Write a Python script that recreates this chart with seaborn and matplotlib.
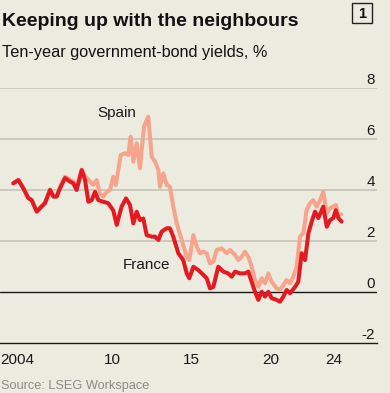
import matplotlib
matplotlib.use("Agg")
import matplotlib.pyplot as plt
import matplotlib.transforms as mtransforms
from matplotlib.patches import Rectangle
import pandas as pd
import seaborn as sns

# ---------------- data ----------------
france_years = [2004.27, 2004.59, 2004.90, 2005.22, 2005.43, 2005.75, 2006.06, 2006.27,
                2006.59, 2006.80, 2007.01, 2007.22, 2007.54, 2007.85, 2008.06, 2008.27,
                2008.59, 2008.80, 2009.01, 2009.22, 2009.43, 2009.64, 2009.95, 2010.27,
                2010.58, 2010.80, 2011.11, 2011.39, 2011.64, 2011.85, 2012.06, 2012.27,
                2012.48, 2012.69, 2013.01, 2013.22, 2013.43, 2013.64, 2013.96, 2014.16,
                2014.37, 2014.69, 2015.00, 2015.22, 2015.38, 2015.64, 2015.95, 2016.27,
                2016.48, 2016.69, 2016.90, 2017.21, 2017.53, 2017.84, 2018.06, 2018.27,
                2018.58, 2018.90, 2019.11, 2019.32, 2019.53, 2019.74, 2019.95, 2020.16,
                2020.37, 2020.58, 2020.90, 2021.11, 2021.32, 2021.53, 2021.74, 2022.06,
                2022.26, 2022.48, 2022.69, 2022.90, 2023.11, 2023.32, 2023.53, 2023.84,
                2024.06, 2024.27, 2024.47, 2024.63, 2024.79, 2025.00]
france_values = [4.26, 4.39, 4.07, 3.68, 3.60, 3.15, 3.35, 3.48,
                 4.00, 3.74, 3.74, 4.07, 4.47, 4.33, 4.26, 4.00,
                 4.78, 4.39, 3.54, 3.60, 3.93, 3.60, 3.54, 3.48,
                 3.20, 2.63, 3.35, 3.67, 3.41, 2.69, 3.15, 2.82,
                 2.88, 2.23, 2.17, 2.17, 2.04, 2.37, 2.50, 2.50,
                 2.17, 1.52, 1.25, 0.73, 0.54, 0.99, 0.86, 0.67,
                 0.54, 0.14, 0.20, 0.99, 0.80, 0.73, 0.60, 0.80,
                 0.73, 0.73, 0.80, 0.40, 0.01, -0.31, 0.01, -0.18,
                 0.01, -0.24, -0.31, -0.38, -0.18, 0.08, -0.05, 0.20,
                 0.40, 1.52, 1.25, 2.30, 2.76, 3.15, 2.90, 3.35,
                 2.56, 2.82, 2.90, 3.21, 2.90, 2.76]

spain_years = [2004.27, 2004.59, 2004.90, 2005.22, 2005.43, 2005.75, 2006.06, 2006.27,
               2006.59, 2006.80, 2007.01, 2007.22, 2007.54, 2007.85, 2008.06, 2008.27,
               2008.59, 2008.80, 2009.11, 2009.32, 2009.53, 2009.74, 2009.95, 2010.17,
               2010.38, 2010.58, 2010.75, 2010.90, 2011.05, 2011.32, 2011.53, 2011.68,
               2011.85, 2012.06, 2012.27, 2012.52, 2012.79, 2013.01, 2013.22, 2013.43,
               2013.53, 2013.74, 2013.96, 2014.16, 2014.37, 2014.59, 2014.90, 2015.22,
               2015.38, 2015.64, 2015.85, 2016.06, 2016.27, 2016.48, 2016.69, 2016.90,
               2017.11, 2017.43, 2017.74, 2017.95, 2018.27, 2018.48, 2018.69, 2018.90,
               2019.11, 2019.32, 2019.53, 2019.74, 2019.95, 2020.16, 2020.37, 2020.58,
               2020.90, 2021.11, 2021.32, 2021.53, 2021.74, 2021.95, 2022.16, 2022.37,
               2022.58, 2022.79, 2023.00, 2023.21, 2023.43, 2023.64, 2023.84, 2024.06,
               2024.27, 2024.47, 2024.64, 2024.79, 2024.97]
spain_values = [4.28, 4.40, 4.09, 3.70, 3.62, 3.17, 3.37, 3.50,
                4.02, 3.77, 3.78, 4.12, 4.52, 4.40, 4.34, 4.10,
                4.80, 4.55, 4.33, 4.20, 4.39, 3.87, 3.74, 3.93,
                4.00, 4.52, 4.20, 4.78, 5.37, 5.44, 5.37, 6.09,
                5.11, 5.83, 4.85, 6.48, 6.88, 5.31, 5.11, 4.78,
                4.13, 4.65, 4.20, 4.13, 3.35, 2.69, 2.04, 1.38,
                1.25, 2.23, 1.78, 1.52, 1.58, 1.52, 1.12, 1.19,
                1.65, 1.71, 1.52, 1.65, 1.45, 1.25, 1.38, 1.58,
                1.38, 0.99, 0.47, 0.20, 0.54, 0.34, 0.73, 0.40,
                0.14, 0.08, 0.27, 0.47, 0.34, 0.60, 0.99, 2.17,
                2.30, 3.21, 3.48, 3.60, 3.35, 3.60, 3.93, 3.08,
                3.28, 3.35, 3.41, 3.02, 3.05]

y_ticks = [-2, 0, 2, 4, 6, 8]
y_tick_labels = ["-2", "0", "2", "4", "6", "8"]
x_tick_years = list(range(2004, 2026))
x_label_pos = [2004.5, 2010.5, 2015.5, 2020.5, 2024.5]
x_label_text = ["2004", "10", "15", "20", "24"]

title = "Keeping up with the neighbours"
subtitle = "Ten-year government-bond yields, %"
source = "Source: LSEG Workspace"

# ---------------- style ----------------
BG = "#ecebdf"
RED = "#e41a22"
SALMON = "#f6a48c"
GRID = "#c9c7bc"
DARK = "#1a1a1a"

sns.set_style("white")
plt.rcParams["font.family"] = ["Liberation Sans", "DejaVu Sans"]

W, H = 390, 393
fig = plt.figure(figsize=(W / 100, H / 100), dpi=100, facecolor=BG)
ax = fig.add_axes([0, 1 - 343 / H, 377 / W, (343 - 88) / H], facecolor=BG)

spain_df = pd.DataFrame({"year": spain_years, "yield": spain_values})
france_df = pd.DataFrame({"year": france_years, "yield": france_values})

sns.lineplot(data=spain_df, x="year", y="yield", ax=ax, color=SALMON, linewidth=2.9,
             estimator=None, sort=False, solid_joinstyle="round", zorder=3)
sns.lineplot(data=france_df, x="year", y="yield", ax=ax, color=RED, linewidth=2.9,
             estimator=None, sort=False, solid_joinstyle="round", zorder=4)

ax.set_xlim(2004 - 9 / 15.84, 2004 + 368 / 15.84)
ax.set_ylim(-2, 8)
ax.set_xlabel("")
ax.set_ylabel("")

# grid lines
for v in y_ticks:
    if v == 0:
        ax.axhline(v, color=DARK, lw=1.0, zorder=2)
    elif v > 0:
        ax.axhline(v, color=GRID, lw=1.3, zorder=1)

for s in ["top", "right", "left"]:
    ax.spines[s].set_visible(False)
ax.spines["bottom"].set_color(DARK)
ax.spines["bottom"].set_linewidth(1.0)

ax.set_yticks([])
ax.set_xticks(x_tick_years)
ax.set_xticklabels([])
ax.tick_params(axis="x", which="major", direction="out", length=4.2, width=0.9,
               color=DARK)
ax.set_xticks(x_label_pos, minor=True)
ax.set_xticklabels(x_label_text, minor=True)
ax.tick_params(axis="x", which="minor", length=0, pad=7, labelsize=11,
               labelcolor=DARK)

# y labels on the right, above gridlines
trans = mtransforms.blended_transform_factory(ax.transAxes, ax.transData)
for v, lab in zip(y_ticks, y_tick_labels):
    ax.text(0.995, v + 0.05, lab, transform=trans, ha="right", va="bottom",
            fontsize=11, color=DARK)

# series labels
ax.text(2010.82, 7.0, "Spain", ha="center", va="center", fontsize=11, color=DARK)
ax.text(2012.69, 1.04, "France", ha="center", va="center", fontsize=11, color=DARK)

# titles
fig.text(2 / W, 1 - 26 / H, title, fontsize=14, fontweight="bold",
         color="#111111", va="baseline", ha="left")
fig.text(2 / W, 1 - 57.5 / H, subtitle, fontsize=11.7, color="#111111",
         va="baseline", ha="left")
fig.text(1 / W, 4.0 / H, source, fontsize=9.2, color="#8a8a8a",
         va="baseline", ha="left")

# chart number box
fig.patches.append(Rectangle((352 / W, 1 - 23 / H), 20 / W, 20 / H,
                             transform=fig.transFigure, fill=False,
                             edgecolor="#222222", linewidth=1.0))
fig.text(362 / W, 1 - 13.5 / H, "1", fontsize=10.5, fontweight="bold",
         color="#111111", ha="center", va="center")

fig.savefig("out.png", dpi=100, facecolor=BG)
